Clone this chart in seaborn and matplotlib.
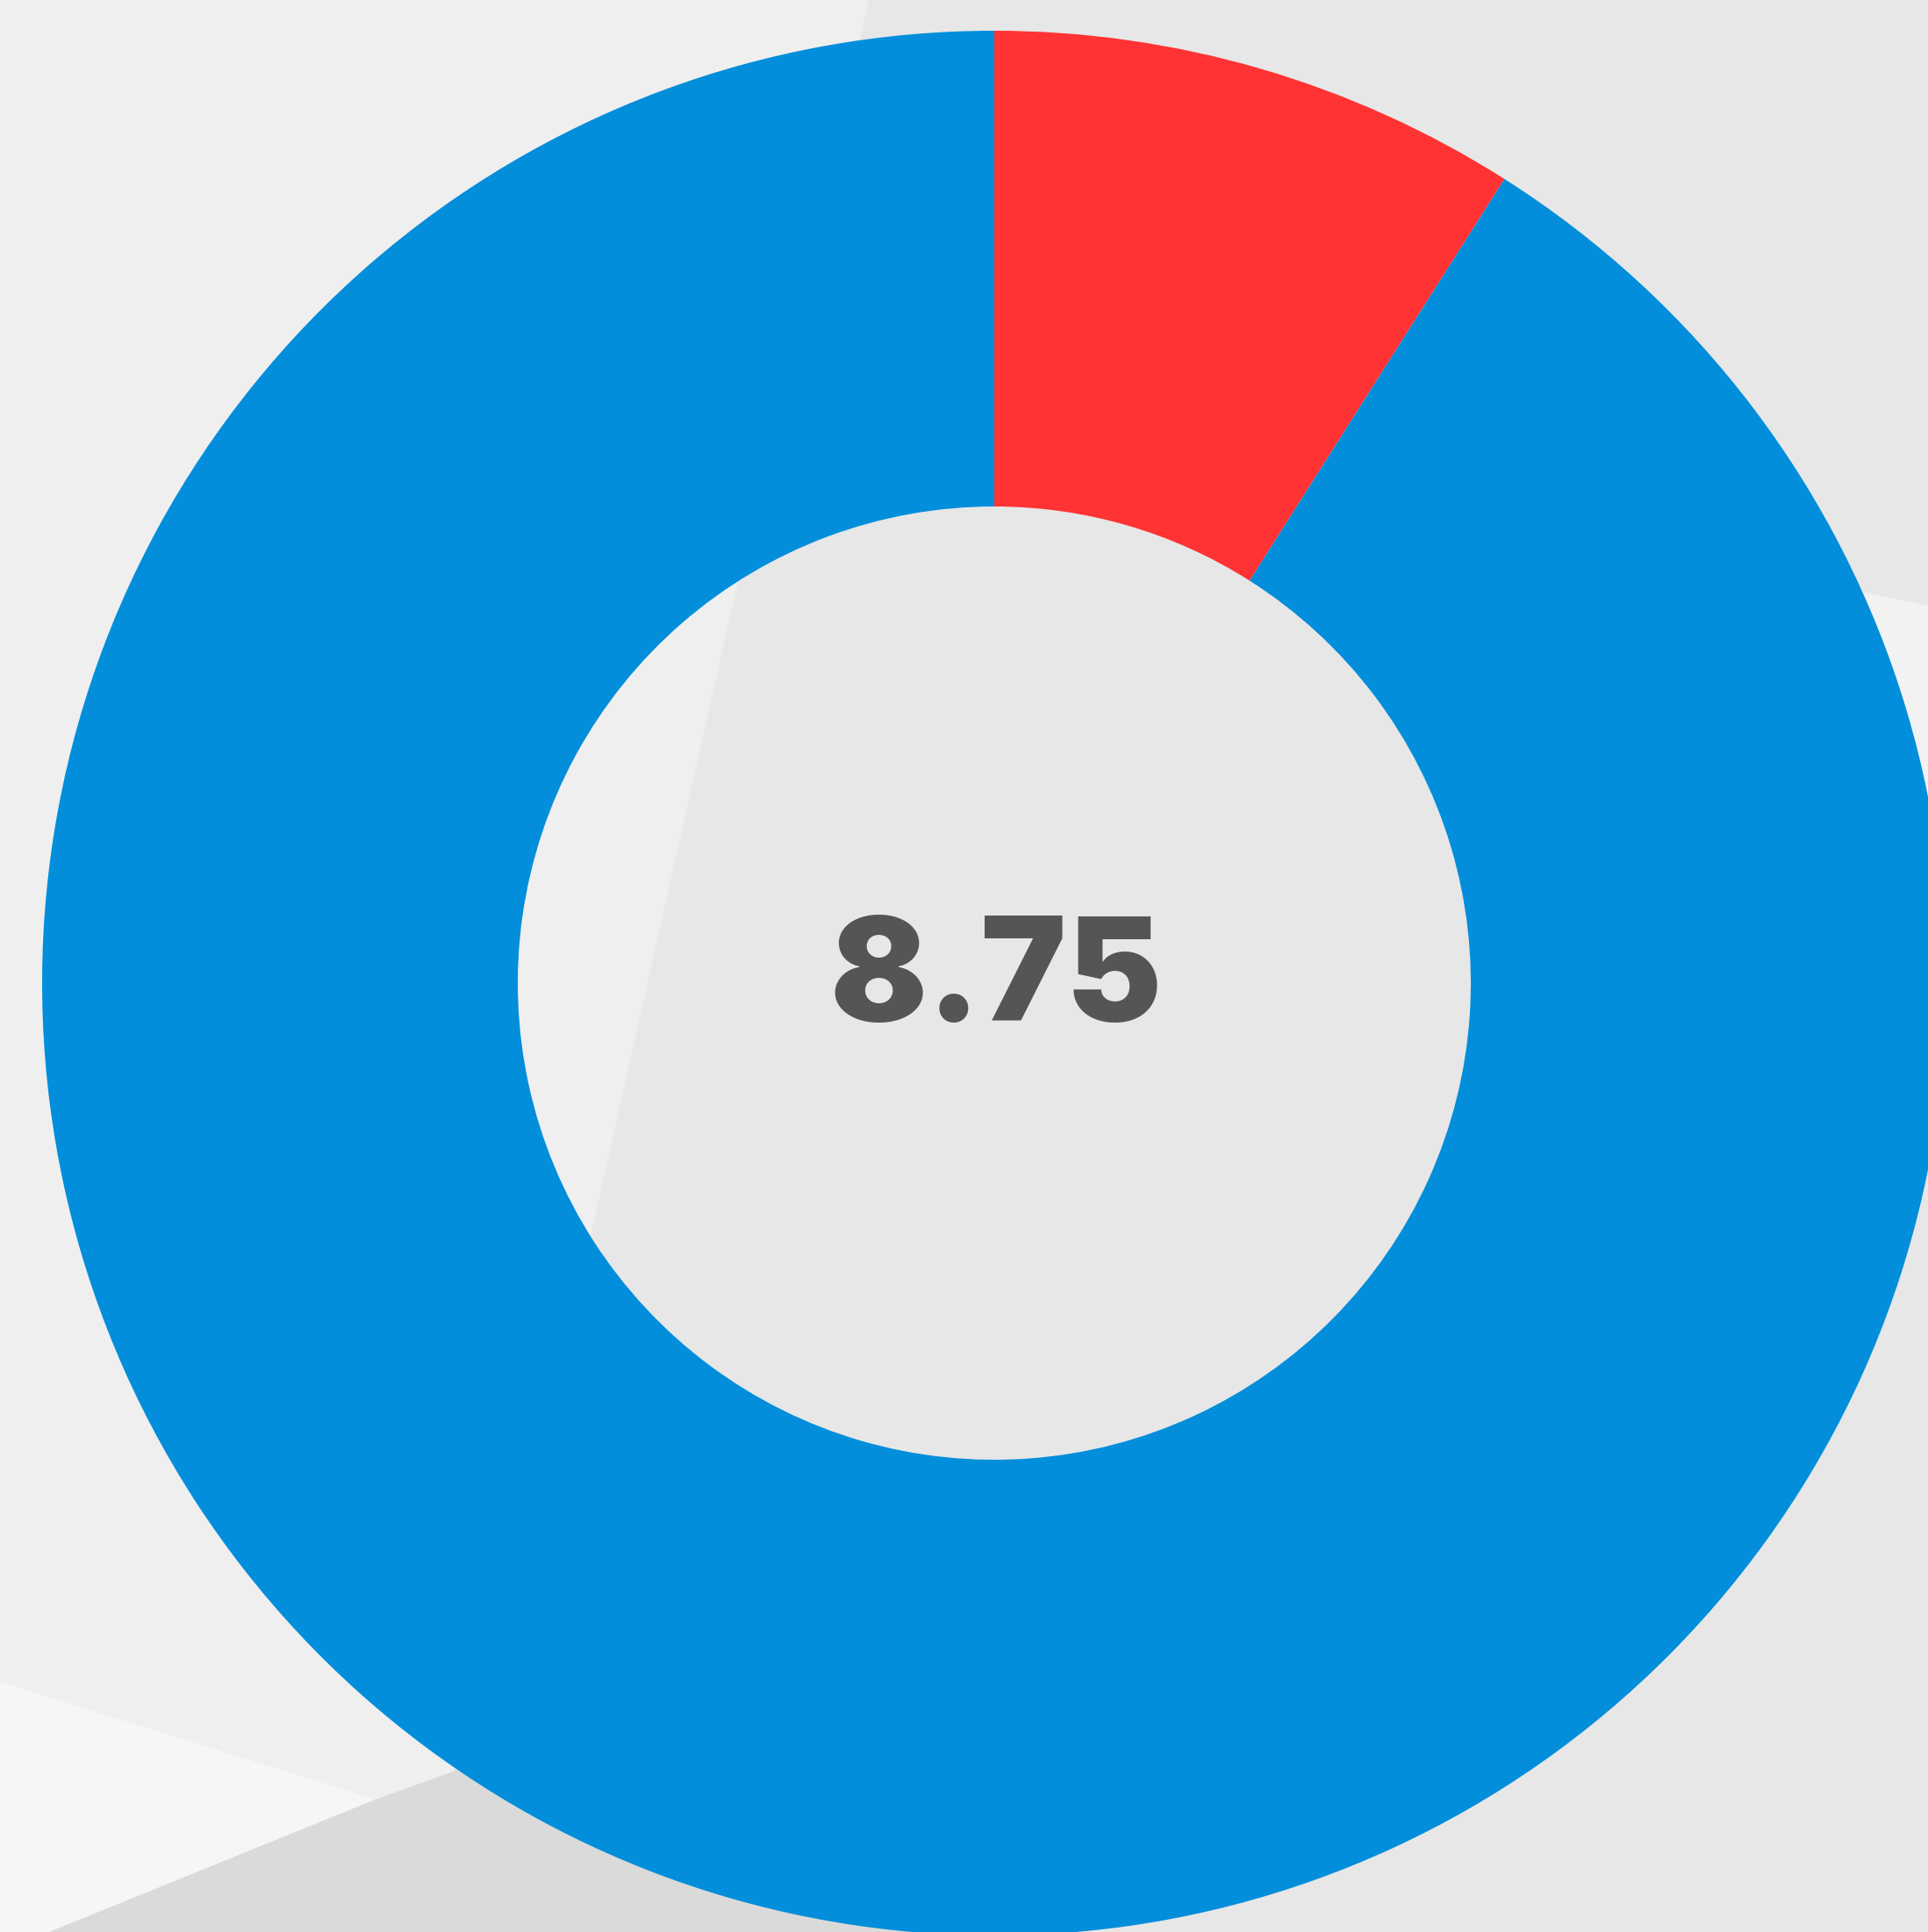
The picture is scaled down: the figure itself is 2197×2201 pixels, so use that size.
import matplotlib
matplotlib.use("Agg")
import matplotlib.pyplot as plt
import seaborn as sns
from matplotlib.patches import Polygon

# donut values (share of the ring, in percent), starting at 12 o'clock, clockwise
segments = ["gap", "score"]
shares = [9, 91]
seg_colors = ["#ff3333", "#028edb"]
score_label = "8.75"

W, H = 2197, 2201

sns.set_theme(style="white")
plt.rcParams['font.family'] = ['Inter', 'Lato', 'DejaVu Sans']

fig = plt.figure(figsize=(W / 100, H / 100), dpi=100)
fig.patch.set_facecolor("#e7e7e7")
ax = fig.add_axes([0, 0, 1, 1])
ax.set_xlim(0, W)
ax.set_ylim(0, H)
ax.set_aspect("equal")
ax.axis("off")


def flip(pts):
    # shapes measured from the top of the picture
    return [(x, H - y) for x, y in pts]


# soft background shapes (blurred photo behind the chart)
bg = [
    ([(0, 0), (990, 0), (674, 1404), (470, H), (0, H)], "#efefef"),
    ([(0, 1916), (428, 2050), (56, H), (0, H)], "#f6f6f6"),
    ([(56, H), (428, 2050), (900, 1880), (1100, H)], "#dadada"),
    ([(2120, 674), (W, 690), (W, 1333), (2150, 1333)], "#f2f2f2"),
]
for pts, c in bg:
    ax.add_patch(Polygon(flip(pts), closed=True, facecolor=c, edgecolor="none", zorder=0))

ax.pie(shares, colors=seg_colors, startangle=90, counterclock=False,
       center=(1133, H - 1120), radius=1085, frame=True,
       wedgeprops=dict(width=542, edgecolor="none", linewidth=0))
ax.set_xlim(0, W)
ax.set_ylim(0, H)
ax.axis("off")

ax.text(1135, H - 1163, score_label, ha="center", va="baseline",
        fontsize=118, fontweight="black", color="#555555")

fig.savefig("out.png", dpi=100, facecolor=fig.get_facecolor())
